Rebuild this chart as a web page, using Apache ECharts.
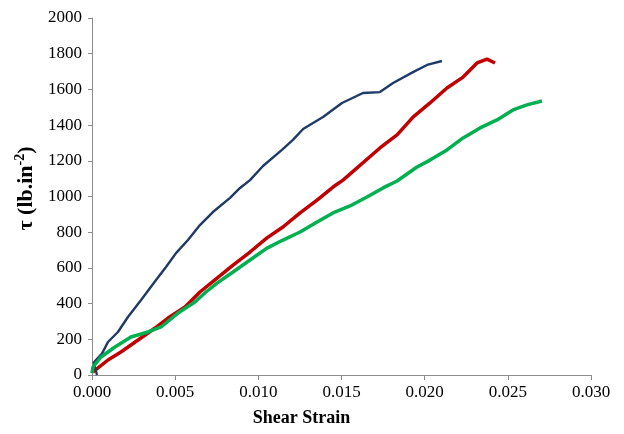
<!DOCTYPE html>
<html>
<head>
<meta charset="utf-8">
<script src="https://cdn.jsdelivr.net/npm/echarts@6/dist/echarts.min.js"></script>
<style>
  html, body { margin: 0; padding: 0; background: #fff; }
  #chart { width: 624px; height: 434px; }
</style>
</head>
<body>
<div id="chart"></div>
<script>
// shear strain vs shear stress
const blueCurve = [
  [0.0003, 0], [0.0001, 70], [0.0006, 120], [0.00096, 185], [0.00156, 241],
  [0.00216, 325], [0.00295, 420], [0.00385, 532], [0.00445, 605], [0.00505, 683],
  [0.00577, 756], [0.00649, 840], [0.00727, 913], [0.0083, 992], [0.0089, 1048],
  [0.0095, 1092], [0.01028, 1171], [0.01142, 1261], [0.01208, 1317], [0.01269, 1378],
  [0.01389, 1445], [0.01503, 1524], [0.01629, 1580], [0.01731, 1585], [0.0181, 1636],
  [0.0193, 1697], [0.02014, 1737], [0.02104, 1759]
];
const redCurve = [
  [0.00006, 17], [0.00096, 84], [0.00174, 129], [0.00277, 196], [0.00379, 263],
  [0.00457, 319], [0.00559, 381], [0.00649, 465], [0.00752, 543], [0.00848, 616],
  [0.0095, 689], [0.01052, 768], [0.01148, 829], [0.01251, 908], [0.01353, 980],
  [0.01449, 1053], [0.01509, 1092], [0.01731, 1272], [0.01834, 1345], [0.0193, 1445],
  [0.02032, 1524], [0.02134, 1608], [0.02231, 1669], [0.02315, 1748], [0.02375, 1770],
  [0.02423, 1748]
];
const greenCurve = [
  [0.0, 10], [0.00006, 45], [0.00054, 101], [0.00138, 157], [0.00234, 213], [0.00337, 241],
  [0.00415, 269], [0.00517, 347], [0.00619, 409], [0.00685, 465], [0.00752, 515],
  [0.00848, 577], [0.0095, 644], [0.01052, 711], [0.01148, 756], [0.01251, 801],
  [0.01353, 857], [0.01449, 908], [0.01551, 947], [0.01653, 997], [0.0175, 1048],
  [0.01834, 1087], [0.01954, 1165], [0.02032, 1204], [0.02134, 1261], [0.02231, 1328],
  [0.02333, 1384], [0.02435, 1429], [0.02531, 1485], [0.02615, 1513], [0.02705, 1535]
];

const chart = echarts.init(document.getElementById("chart"));
const axisGrey = "#8c8c8c";
const font = "'Liberation Serif', 'Times New Roman', serif";

const option = {
  backgroundColor: "#fff",
  animation: false,
  grid: { left: 92, right: 33, top: 18, bottom: 59 },
  xAxis: {
    type: "value",
    min: 0,
    max: 0.03,
    interval: 0.005,
    name: "Shear Strain",
    nameLocation: "middle",
    nameGap: 34,
    nameTextStyle: { fontFamily: font, fontSize: 18, fontWeight: "bold", color: "#000", padding: [0, 80, 0, 0] },
    axisLine: { lineStyle: { color: axisGrey, width: 1 } },
    axisTick: { inside: false, length: 5, lineStyle: { color: axisGrey } },
    axisLabel: {
      fontFamily: font, fontSize: 17, color: "#000", margin: 9,
      formatter: (v) => v.toFixed(3)
    },
    splitLine: { show: false }
  },
  yAxis: {
    type: "value",
    min: 0,
    max: 2000,
    interval: 200,
    name: "{n|τ (lb.in}{s|-2}{n|)}",
    nameLocation: "middle",
    nameGap: 48,
    nameRotate: 90,
    nameTextStyle: {
      fontFamily: font, fontSize: 22, fontWeight: "bold", color: "#000",
      padding: [0, 0, 0, 16],
      rich: {
        n: { fontFamily: font, fontSize: 22, fontWeight: "bold", color: "#000", lineHeight: 24, verticalAlign: "bottom" },
        s: { fontFamily: font, fontSize: 14, fontWeight: "bold", color: "#000", lineHeight: 24, verticalAlign: "top" }
      }
    },
    axisLine: { show: true, lineStyle: { color: axisGrey, width: 1 } },
    axisTick: { show: true, inside: false, length: 4, lineStyle: { color: axisGrey } },
    axisLabel: { fontFamily: font, fontSize: 17, color: "#000", margin: 10, formatter: (v) => String(v) },
    splitLine: { show: false }
  },
  series: [
    {
      name: "blue", type: "line", data: blueCurve, symbol: "none",
      lineStyle: { color: "#1f3a66", width: 2.4 }, z: 3
    },
    {
      name: "red", type: "line", data: redCurve, symbol: "none",
      lineStyle: { color: "#c00000", width: 3.5 }, z: 2
    },
    {
      name: "green", type: "line", data: greenCurve, symbol: "none",
      lineStyle: { color: "#00b050", width: 3.5 }, z: 4
    }
  ]
};

chart.setOption(option);
</script>
</body>
</html>
